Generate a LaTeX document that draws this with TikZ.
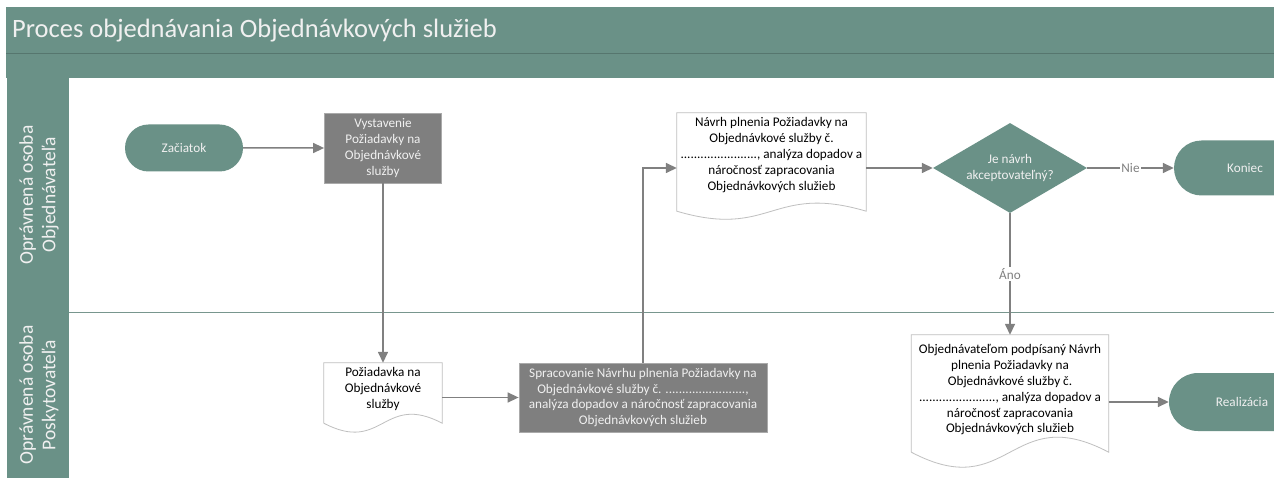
\documentclass[tikz,border=0pt]{standalone}
\usepackage{fontspec}
\setmainfont{Carlito}
\usetikzlibrary{shapes.geometric,shapes.misc,arrows.meta,calc}
\definecolor{tealA}{RGB}{106,145,135}
\definecolor{tealLine}{RGB}{86,118,110}
\definecolor{laneLine}{RGB}{120,150,142}
\definecolor{boxGray}{RGB}{127,127,127}
\definecolor{boxEdge}{RGB}{170,170,170}
\definecolor{connGray}{RGB}{128,128,128}
\definecolor{docEdge}{RGB}{191,191,191}
\definecolor{lightText}{RGB}{240,240,240}
\tikzset{
  body/.style={font=\fontsize{13.2}{15.8}\selectfont, align=center},
  term/.style={body, rounded rectangle, fill=tealA, draw=none, text=lightText, inner sep=0pt},
  proc/.style={body, rectangle, fill=boxGray, draw=boxEdge, line width=0.8pt, text=lightText, inner sep=0pt},
  docbox/.style={rectangle, draw=none, inner sep=0pt},
  doctext/.style={body, text=black, inner sep=0pt},
  docline/.style={draw=docEdge, fill=white, line width=0.8pt},
  decision/.style={body, diamond, aspect=1.71, fill=tealA, draw=none, text=lightText, inner sep=0pt},
  conn/.style={draw=connGray, line width=1.5pt, -{Triangle[length=11pt,width=10pt]}},
  lbl/.style={font=\fontsize{13.2}{15}\selectfont, text=connGray, fill=white, inner sep=1.5pt},
  lanetext/.style={font=\fontsize{19.5}{22.5}\selectfont, text=lightText, align=center},
}
\begin{document}
\begin{tikzpicture}[x=1pt,y=-1pt]
\useasboundingbox (0,0) rectangle (1274,478);
\clip (0,0) rectangle (1274,478);
\fill[white] (0,0) rectangle (1274,478);
% header and lane column
\fill[tealA] (6,7) rectangle (1274,78);
\draw[tealLine, line width=1pt] (6,54) -- (1274,54);
\fill[tealA] (7,78) rectangle (69,478);
\draw[laneLine, line width=1pt] (69,312) -- (1274,312);
\node[font=\fontsize{26.5}{30}\selectfont, text=lightText, anchor=west, inner sep=0pt] (title) at (12,31) {Proces objednávania Objednávkových služieb};
\node[lanetext, rotate=90] (lane1) at (39,195) {Oprávnená osoba\\Objednávateľa};
\node[lanetext, rotate=90] (lane2) at (39,395) {Oprávnená osoba\\Poskytovateľa};

% nodes
\node[term, minimum width=118pt, minimum height=47pt] (zac) at (184,148) {Začiatok};
\node[proc, minimum width=117pt, minimum height=70pt] (vys) at (383,148) {Vystavenie\\Požiadavky na\\Objednávkové\\služby};

\node[docbox, minimum width=118pt, minimum height=69pt] (poz) at (383,397.5) {};
\filldraw[docline] (poz.north west) -- (poz.north east) -- ($(poz.south east)+(0,-9)$)
  .. controls ($(poz.south)+(0,-40)$) and ($(poz.south)+(0,22)$) .. ($(poz.south west)+(0,-9)$) -- cycle;
\node[doctext] (pozt) at (383,389) {Požiadavka na\\Objednávkové\\služby};

\node[proc, minimum width=248pt, minimum height=69pt] (spr) at (643,397.5) {Spracovanie Návrhu plnenia Požiadavky na\\Objednávkové služby č. ........................,\\analýza dopadov a náročnosť zapracovania\\Objednávkových služieb};

\node[docbox, minimum width=189pt, minimum height=110pt] (nav) at (771.5,168) {};
\filldraw[docline] (nav.north west) -- (nav.north east) -- ($(nav.south east)+(0,-12)$)
  .. controls ($(nav.south)+(0,-40)$) and ($(nav.south)+(0,16)$) .. ($(nav.south west)+(0,-12)$) -- cycle;
\node[doctext] (navt) at (771.5,155) {Návrh plnenia Požiadavky na\\Objednávkové služby č.\\......................., analýza dopadov a\\náročnosť zapracovania\\Objednávkových služieb};

\node[decision, minimum width=154pt, minimum height=90pt] (dia) at (1010,168) {Je návrh\\akceptovateľný?};
\node[term, minimum width=142pt, minimum height=55pt] (kon) at (1245,168) {Koniec};

\node[docbox, minimum width=197pt, minimum height=134pt] (obj) at (1010,402) {};
\filldraw[docline] (obj.north west) -- (obj.north east) -- ($(obj.south east)+(0,-17)$)
  .. controls ($(obj.south)+(0,-69)$) and ($(obj.south)+(0,35)$) .. ($(obj.south west)+(0,-17)$) -- cycle;
\node[doctext] (objt) at (1010,390) {Objednávateľom podpísaný Návrh\\plnenia Požiadavky na\\Objednávkové služby č.\\......................., analýza dopadov a\\náročnosť zapracovania\\Objednávkových služieb};

\node[term, minimum width=146pt, minimum height=58pt] (rea) at (1242,402) {Realizácia};

% connectors
\draw[conn] (zac) -- (vys);
\draw[conn] (vys.south) -- (poz.north);
\draw[conn] (poz.east |- spr.west) -- (spr.west);
\draw[conn] (spr.north) |- (nav.west);
\draw[conn] (nav.east) -- (dia.west);
\draw[conn] (dia.east) -- node[lbl] (nie) {Nie} (kon.west);
\draw[conn] (dia.south) -- node[lbl] (ano) {Áno} (obj.north);
\draw[conn] (obj.east) -- (rea.west);
\end{tikzpicture}
\end{document}
